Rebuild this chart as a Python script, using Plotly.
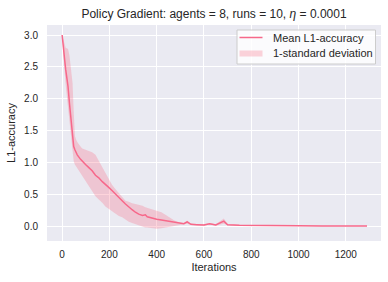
import plotly.graph_objects as go

iterations = [0, 3, 7, 11, 15, 21, 25, 31, 37, 44, 49, 54, 59, 64, 78, 85, 99, 113, 127, 141,
              155, 170, 183, 197, 211, 226, 240, 254, 268, 282, 296, 310, 324, 340, 352, 360,
              381, 400, 420, 437, 450, 460, 475, 494, 515, 529, 545, 570, 600, 624, 650, 684,
              700, 750, 800, 900, 1000, 1100, 1200, 1290]

mean_l1 = [3.0, 2.86, 2.73, 2.60, 2.46, 2.32, 2.19, 1.93, 1.66, 1.40, 1.25, 1.20, 1.15, 1.12, 1.05,
           1.02, 0.97, 0.92, 0.87, 0.80, 0.76, 0.70, 0.65, 0.61, 0.56, 0.50, 0.45, 0.40, 0.35, 0.30,
           0.26, 0.22, 0.19, 0.17, 0.18, 0.15, 0.125, 0.11, 0.10, 0.09, 0.085, 0.075, 0.065, 0.05,
           0.04, 0.07, 0.03, 0.025, 0.02, 0.04, 0.02, 0.08, 0.025, 0.015, 0.012, 0.01, 0.008,
           0.006, 0.005, 0.005]

upper_l1 = [3.0, 2.95, 2.88, 2.84, 2.80, 2.79, 2.78, 2.68, 2.52, 2.25, 1.80, 1.42, 1.36, 1.32, 1.25,
            1.22, 1.20, 1.18, 1.16, 1.12, 1.03, 0.93, 0.84, 0.74, 0.65, 0.58, 0.52, 0.45, 0.40, 0.385,
            0.36, 0.35, 0.34, 0.32, 0.30, 0.29, 0.27, 0.25, 0.22, 0.18, 0.15, 0.12, 0.09, 0.065,
            0.05, 0.09, 0.04, 0.035, 0.03, 0.05, 0.03, 0.12, 0.035, 0.02, 0.015, 0.012, 0.01,
            0.008, 0.006, 0.006]

lower_l1 = [3.0, 2.77, 2.58, 2.40, 2.22, 2.00, 1.85, 1.58, 1.35, 1.15, 1.02, 0.97, 0.94, 0.91, 0.84,
            0.80, 0.71, 0.63, 0.55, 0.47, 0.42, 0.37, 0.31, 0.27, 0.23, 0.19, 0.16, 0.14, 0.10, 0.07,
            0.05, 0.03, 0.01, -0.01, -0.02, -0.02, -0.03, -0.04, -0.03, -0.02, -0.01, 0.0, 0.01,
            0.02, 0.025, 0.04, 0.02, 0.015, 0.01, 0.03, 0.01, 0.04, 0.015, 0.01, 0.009, 0.008,
            0.006, 0.004, 0.004, 0.004]

x_ticks = [0, 200, 400, 600, 800, 1000, 1200]
y_ticks = [0.0, 0.5, 1.0, 1.5, 2.0, 2.5, 3.0]
legend_labels = ["Mean L1-accuracy", "1-standard deviation"]

LINE = "#f7688a"
BAND = "rgba(247,113,137,0.3)"
TXT = "#262626"
FONT = "Liberation Sans, Arial, sans-serif"

W, H = 388, 282
ML, MR, MT, MB = 47, 7, 25, 41
PW, PH = W - ML - MR, H - MT - MB


def px(xp):
    return (xp - ML) / PW


def py(yp):
    return (H - MB - yp) / PH


fig = go.Figure()
fig.add_trace(go.Scatter(x=iterations, y=lower_l1, mode="lines", line=dict(width=0),
                         showlegend=False, hoverinfo="skip"))
fig.add_trace(go.Scatter(x=iterations, y=upper_l1, mode="lines", line=dict(width=0),
                         fill="tonexty", fillcolor=BAND, name=legend_labels[1],
                         showlegend=False))
fig.add_trace(go.Scatter(x=iterations, y=mean_l1, mode="lines", line=dict(color=LINE, width=1.5),
                         name=legend_labels[0], showlegend=False))

# legend drawn in the matplotlib style (compact rows)
shapes = [
    dict(type="rect", xref="paper", yref="paper", x0=px(237), x1=px(375.5), y0=py(64), y1=py(30),
         fillcolor="rgba(255,255,255,0.8)", line=dict(color="#cccccc", width=1), layer="above"),
    dict(type="line", xref="paper", yref="paper", x0=px(239.5), x1=px(262.5), y0=py(37.5),
         y1=py(37.5), line=dict(color=LINE, width=1.5), layer="above"),
    dict(type="rect", xref="paper", yref="paper", x0=px(239.5), x1=px(262.5), y0=py(56.5),
         y1=py(50.5), fillcolor=BAND, line=dict(width=0), layer="above"),
]
annotations = [
    dict(text=legend_labels[0], xref="paper", yref="paper", x=px(270.5), y=py(37.5),
         xanchor="left", yanchor="middle", showarrow=False,
         font=dict(size=11, color=TXT, family=FONT)),
    dict(text=legend_labels[1], xref="paper", yref="paper", x=px(270.5), y=py(53.5),
         xanchor="left", yanchor="middle", showarrow=False,
         font=dict(size=11, color=TXT, family=FONT)),
]

fig.update_layout(
    width=W, height=H,
    margin=dict(l=ML, r=MR, t=MT, b=MB, autoexpand=False),
    paper_bgcolor="white", plot_bgcolor="#eaeaf2",
    font=dict(family=FONT, color=TXT, size=10),
    title=dict(text="Policy Gradient: agents = 8, runs = 10, <i>η</i> = 0.0001",
               x=0.5, xref="paper", xanchor="center", y=1 - 14 / 282, yanchor="middle",
               font=dict(size=12, color=TXT, family=FONT)),
    showlegend=False,
    shapes=shapes,
    annotations=annotations,
)
fig.update_xaxes(range=[-64, 1349], tickvals=x_ticks, ticktext=[str(v) for v in x_ticks],
                 automargin=False,
                 showgrid=True, gridcolor="white", gridwidth=1, zeroline=False, showline=False,
                 ticks="", ticklabelstandoff=6,
                 tickfont=dict(size=10, color=TXT),
                 title=dict(text="Iterations", font=dict(size=11, color=TXT), standoff=4))
fig.update_yaxes(range=[-0.231, 3.157], tickvals=y_ticks, ticktext=[f"{v:.1f}" for v in y_ticks],
                 automargin=False,
                 showgrid=True, gridcolor="white", gridwidth=1, zeroline=False, showline=False,
                 ticks="", ticklabelstandoff=8,
                 tickfont=dict(size=10, color=TXT),
                 title=dict(text="L1-accuracy", font=dict(size=11, color=TXT), standoff=6))

fig.write_html("out.html", config={"displayModeBar": False},
               post_script="document.body.style.margin='0';")
